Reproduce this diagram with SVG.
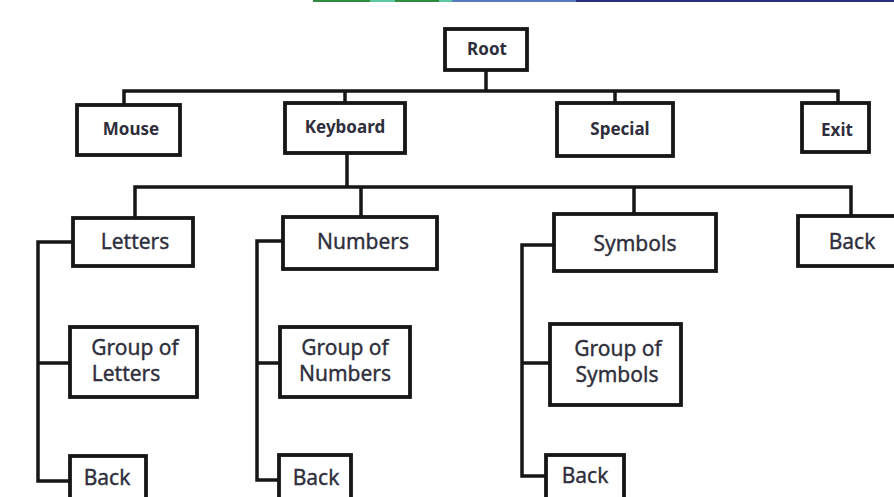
<svg xmlns="http://www.w3.org/2000/svg" width="894" height="497" viewBox="0 0 894 497">
<style>
.box{fill:#fff;stroke:#161616;stroke-width:3.8}
.ln{fill:none;stroke:#161616;stroke-width:3.5;stroke-linejoin:miter;stroke-linecap:square}
.t1{font-family:"Noto Sans","Open Sans",sans-serif;font-weight:bold;font-size:17px;fill:#2e2e3c;text-anchor:middle}
.t2{font-family:"Noto Sans","Open Sans",sans-serif;font-size:21px;fill:#2e2e3c;stroke:#2e2e3c;stroke-width:0.35;text-anchor:middle}
</style>
<g id="topbar">
<rect x="313" y="0" width="139" height="2" fill="#2e8b3e"/>
<rect x="370" y="0" width="25" height="2" fill="#5cc8a0"/>
<rect x="439" y="0" width="13" height="2" fill="#5cc8a0"/>
<rect x="452" y="0" width="124" height="2" fill="#5878c0"/>
<rect x="576" y="0" width="318" height="2" fill="#2e2e80"/>
</g>
<g id="connectors">
<path class="ln" d="M486 70V91M124 105V91H838V104M345 91V103M615 91V103"/>
<path class="ln" d="M347 153V187M135 218V187H851V216M361 187V217M634 187V214"/>
<path class="ln" d="M73 242H38V481H69M38 363H70"/>
<path class="ln" d="M283 241H257V480H279M257 363H280"/>
<path class="ln" d="M554 245H522V476H546M522 363H550"/>
</g>
<g id="root"><rect class="box" x="445" y="29" width="82" height="41"/><text class="t1" x="487" y="55">Root</text></g>
<g id="mouse"><rect class="box" x="77" y="105" width="103" height="50"/><text class="t1" x="131" y="135">Mouse</text></g>
<g id="keyboard"><rect class="box" x="285" y="103" width="120" height="50"/><text class="t1" x="345" y="133">Keyboard</text></g>
<g id="special"><rect class="box" x="557" y="103" width="116" height="53"/><text class="t1" x="620" y="135">Special</text></g>
<g id="exit"><rect class="box" x="802" y="103" width="67" height="49"/><text class="t1" x="837" y="136">Exit</text></g>
<g id="letters"><rect class="box" x="73" y="218" width="120" height="48"/><text class="t2" x="135" y="249">Letters</text></g>
<g id="numbers"><rect class="box" x="283" y="217" width="154" height="52"/><text class="t2" x="363" y="249">Numbers</text></g>
<g id="symbols"><rect class="box" x="554" y="214" width="162" height="57"/><text class="t2" x="635" y="251">Symbols</text></g>
<g id="back-kb"><rect class="box" x="798" y="216" width="108" height="50"/><text class="t2" x="852" y="249">Back</text></g>
<g id="group-letters"><rect class="box" x="70" y="327" width="127" height="70"/><text class="t2" x="135" y="355">Group of</text><text class="t2" x="126" y="381">Letters</text></g>
<g id="group-numbers"><rect class="box" x="280" y="327" width="130" height="70"/><text class="t2" x="345" y="355">Group of</text><text class="t2" x="345" y="381">Numbers</text></g>
<g id="group-symbols"><rect class="box" x="550" y="324" width="131" height="81"/><text class="t2" x="618" y="356">Group of</text><text class="t2" x="617" y="382">Symbols</text></g>
<g id="back-letters"><rect class="box" x="70" y="456" width="76" height="50"/><text class="t2" x="107" y="485">Back</text></g>
<g id="back-numbers"><rect class="box" x="279" y="455" width="72" height="50"/><text class="t2" x="316" y="485">Back</text></g>
<g id="back-symbols"><rect class="box" x="546" y="455" width="78" height="50"/><text class="t2" x="585" y="483">Back</text></g>
</svg>
